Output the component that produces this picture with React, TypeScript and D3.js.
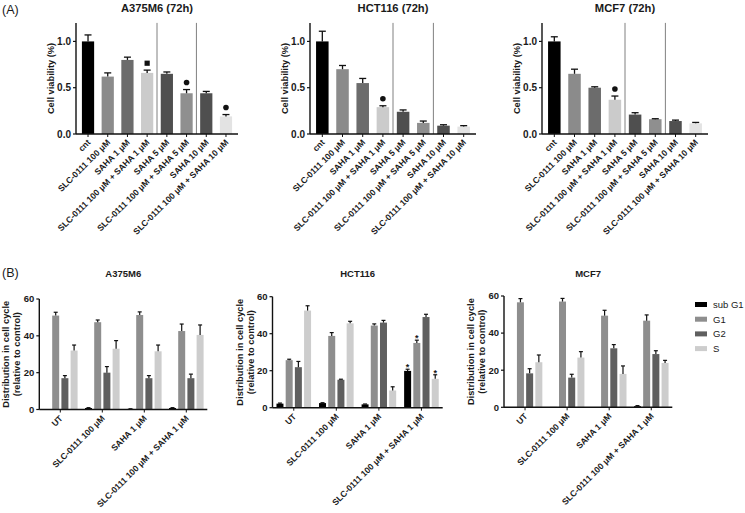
import React from "react";
import * as d3 from "d3";

// ---------- DATA ----------
const viabilityCategories = [
  "cnt",
  "SLC-0111 100 μM",
  "SAHA 1 μM",
  "SLC-0111 100 μM + SAHA 1 μM",
  "SAHA 5 μM",
  "SLC-0111 100 μM + SAHA 5 μM",
  "SAHA 10 μM",
  "SLC-0111 100 μM + SAHA 10 μM",
];
const viabilityTicks = [0, 0.5, 1.0];

const a375Viability = [1.0, 0.62, 0.8, 0.66, 0.65, 0.44, 0.44, 0.19];
const a375ViabilityErr = [0.07, 0.04, 0.03, 0.03, 0.02, 0.04, 0.02, 0.02];
const a375Markers = ["", "", "", "square", "", "circle", "", "circle"];

const hctViability = [1.0, 0.7, 0.55, 0.29, 0.24, 0.12, 0.09, 0.08];
const hctViabilityErr = [0.11, 0.04, 0.05, 0.015, 0.02, 0.02, 0.01, 0.01];
const hctMarkers = ["", "", "", "circle", "", "", "", ""];

const mcfViability = [1.0, 0.65, 0.5, 0.37, 0.21, 0.16, 0.14, 0.115];
const mcfViabilityErr = [0.05, 0.05, 0.01, 0.04, 0.02, 0.005, 0.01, 0.01];
const mcfMarkers = ["", "", "", "circle", "", "", "", ""];

const cycleGroups = ["UT", "SLC-0111 100 μM", "SAHA 1 μM", "SLC-0111 100 μM + SAHA 1 μM"];
const cyclePhases = ["sub G1", "G1", "G2", "S"];
const cycleTicks = [0, 20, 40, 60];

const a375SubG1 = [0, 0.8, 0.3, 0.8];
const a375SubG1Err = [0, 0.2, 0.1, 0.2];
const a375G1 = [51, 47.4, 51.3, 42.6];
const a375G1Err = [1.8, 1.2, 1.7, 3.8];
const a375G2 = [17, 20, 17, 17];
const a375G2Err = [1.4, 3.3, 1.4, 2.2];
const a375S = [32, 33, 31.6, 40.5];
const a375SErr = [3, 4.4, 3.4, 5.4];

const hctSubG1 = [2.2, 2.5, 1.8, 19.9];
const hctSubG1Err = [0.3, 0.2, 0.2, 0.9];
const hctG1 = [25.7, 38.8, 44.4, 35];
const hctG1Err = [0.5, 1.8, 0.9, 1.5];
const hctG2 = [21.9, 15.1, 46, 49];
const hctG2Err = [3.1, 0.3, 1.2, 1.5];
const hctS = [52.5, 45.6, 9.3, 15.6];
const hctSErr = [2.6, 1.1, 2, 2.2];
const hctStars = [
  [false, false, false, true],
  [false, false, false, true],
  [false, false, false, false],
  [false, false, false, true],
];

const mcfSubG1 = [0, 0.2, 0.1, 0.6];
const mcfSubG1Err = [0, 0, 0, 0.3];
const mcfG1 = [56.6, 57, 49.4, 46.7];
const mcfG1Err = [2, 1.7, 2.9, 3.1];
const mcfG2 = [18.3, 16, 31.8, 28.7];
const mcfG2Err = [2.5, 1.8, 2, 1.8];
const mcfS = [24.3, 26.8, 18, 23.9];
const mcfSErr = [3.9, 3.2, 4.3, 1.4];

// ---------- STYLE ----------
const FONT = "'Liberation Sans', Arial, Helvetica, sans-serif";
const TEXT = "#1a1a1a";
const viabilityColors = ["#000000", "#8b8b8b", "#6c6c6c", "#cbcbcb", "#4f4f4f", "#8f8f8f", "#4f4f4f", "#e3e3e3"];
const phaseColors = ["#000000", "#8e8e8e", "#5f5f5f", "#cdcdcd"];

type VProps = {
  title: string;
  values: number[];
  errors: number[];
  markers: string[];
  axisX: number;
  axisEnd: number;
};

function ViabilityPanel({ title, values, errors, markers, axisX, axisEnd }: VProps) {
  const baseline = 134;
  const top = 22.9;
  const x = d3
    .scaleBand<string>()
    .domain(viabilityCategories)
    .range([axisX, axisEnd])
    .paddingInner(0.38)
    .paddingOuter(0.3);
  const y = d3.scaleLinear().domain([0, 1.2]).range([baseline, top]);
  const bw = x.bandwidth();
  const cx = (c: string) => (x(c) as number) + bw / 2;
  const fmt = d3.format(".1f");
  const dividers = [
    (cx(viabilityCategories[3]) + cx(viabilityCategories[4])) / 2,
    (cx(viabilityCategories[5]) + cx(viabilityCategories[6])) / 2,
  ];
  return (
    <g>
      <text x={(axisX + axisEnd) / 2} y={11.5} textAnchor="middle" fontSize={11.2} fontWeight="bold" fill={TEXT}>
        {title}
      </text>
      {dividers.map((d, i) => (
        <line key={i} x1={d} x2={d} y1={top} y2={baseline} stroke="#808080" strokeWidth={1} />
      ))}
      {viabilityCategories.map((c, i) => {
        const errY = y(values[i] + errors[i]);
        const c0 = cx(c);
        return (
          <g key={c}>
            <rect x={x(c)} y={y(values[i])} width={bw} height={baseline - y(values[i])} fill={viabilityColors[i]} />
            <line x1={c0} x2={c0} y1={y(values[i])} y2={errY} stroke="#111" strokeWidth={1.3} />
            <line x1={c0 - 3.5} x2={c0 + 3.5} y1={errY} y2={errY} stroke="#111" strokeWidth={1.3} />
            {markers[i] === "square" && <rect x={c0 - 2.6} y={errY - 9.5} width={5.2} height={5.2} fill="#111" />}
            {markers[i] === "circle" && <circle cx={c0} cy={errY - 7} r={2.8} fill="#111" />}
            <line x1={c0} x2={c0} y1={baseline} y2={baseline + 3} stroke="#111" strokeWidth={1} />
            <text
              transform={`translate(${c0 + 3},${baseline + 9}) rotate(-45)`}
              textAnchor="end"
              fontSize={8.6}
              fontWeight="bold"
              fill={TEXT}
            >
              {c}
            </text>
          </g>
        );
      })}
      <line x1={axisX} x2={axisEnd} y1={baseline} y2={baseline} stroke="#111" strokeWidth={1.4} />
      <line x1={axisX} x2={axisX} y1={top} y2={baseline} stroke="#111" strokeWidth={1.4} />
      {viabilityTicks.map((t) => (
        <g key={t}>
          <line x1={axisX - 3} x2={axisX} y1={y(t)} y2={y(t)} stroke="#111" strokeWidth={1.2} />
          <text x={axisX - 5} y={y(t)} dy="0.35em" textAnchor="end" fontSize={10} fontWeight="bold" fill={TEXT}>
            {fmt(t)}
          </text>
        </g>
      ))}
      <text
        transform={`translate(${axisX - 25},${(top + baseline) / 2}) rotate(-90)`}
        textAnchor="middle"
        dy="0.35em"
        fontSize={9.3}
        fontWeight="bold"
        fill={TEXT}
      >
        Cell viability (%)
      </text>
    </g>
  );
}

type CProps = {
  title: string;
  series: number[][];
  errs: number[][];
  stars?: boolean[][];
  axisX: number;
  axisEnd: number;
  baseline: number;
  top: number;
};

function CyclePanel({ title, series, errs, stars, axisX, axisEnd, baseline, top }: CProps) {
  const gx = d3.scaleBand<string>().domain(cycleGroups).range([axisX, axisEnd]).padding(0);
  const px = d3.scaleBand<string>().domain(cyclePhases).range([-17.3, 17.3]).paddingInner(0.24).paddingOuter(0);
  const y = d3.scaleLinear().domain([0, 60]).range([baseline, top]);
  const bw = px.bandwidth();
  return (
    <g>
      <text x={(axisX + axisEnd) / 2} y={276.5} textAnchor="middle" fontSize={9.5} fontWeight="bold" fill={TEXT}>
        {title}
      </text>
      {cycleGroups.map((g, gi) => {
        const gc = (gx(g) as number) + gx.bandwidth() / 2;
        return (
          <g key={g}>
            {cyclePhases.map((p, pi) => {
              const v = series[pi][gi];
              const e = errs[pi][gi];
              const bx = gc + (px(p) as number);
              const c0 = bx + bw / 2;
              const errY = y(v + e);
              return (
                <g key={p}>
                  <rect x={bx} y={y(v)} width={bw} height={baseline - y(v)} fill={phaseColors[pi]} />
                  {e > 0 && (
                    <>
                      <line x1={c0} x2={c0} y1={y(v)} y2={errY} stroke="#111" strokeWidth={1.2} />
                      <line x1={c0 - 2} x2={c0 + 2} y1={errY} y2={errY} stroke="#111" strokeWidth={1.2} />
                    </>
                  )}
                  {stars && stars[pi][gi] && (
                    <text x={c0} y={errY + 1} textAnchor="middle" fontSize={9} fontWeight="bold" fill={TEXT}>
                      *
                    </text>
                  )}
                </g>
              );
            })}
            <line x1={gc} x2={gc} y1={baseline} y2={baseline + 3} stroke="#111" strokeWidth={1} />
            <text
              transform={`translate(${gc + 3},${baseline + 9.5}) rotate(-45)`}
              textAnchor="end"
              fontSize={8.6}
              fontWeight="bold"
              fill={TEXT}
            >
              {g}
            </text>
          </g>
        );
      })}
      <line x1={axisX} x2={axisEnd} y1={baseline} y2={baseline} stroke="#111" strokeWidth={1.4} />
      <line x1={axisX} x2={axisX} y1={top} y2={baseline} stroke="#111" strokeWidth={1.4} />
      {cycleTicks.map((t) => (
        <g key={t}>
          <line x1={axisX - 3} x2={axisX} y1={y(t)} y2={y(t)} stroke="#111" strokeWidth={1.2} />
          <text x={axisX - 5} y={y(t)} dy="0.35em" textAnchor="end" fontSize={9.5} fontWeight="bold" fill={TEXT}>
            {t}
          </text>
        </g>
      ))}
      <text
        transform={`translate(${axisX - 30},${(top + baseline) / 2}) rotate(-90)`}
        textAnchor="middle"
        fontSize={9.3}
        fontWeight="bold"
        fill={TEXT}
      >
        <tspan x={0} dy="0">Distribution in cell cycle</tspan>
        <tspan x={0} dy="11">(relative to control)</tspan>
      </text>
    </g>
  );
}

export default function App() {
  return (
    <svg
      width={745}
      height={513}
      style={{ position: "absolute", left: 0, top: 0, background: "#fff" }}
      fontFamily={FONT}
    >
      <rect width={745} height={513} fill="#fff" />
      <text x={2} y={14} fontSize={12.5} fill={TEXT}>(A)</text>
      <text x={2} y={277} fontSize={12.5} fill={TEXT}>(B)</text>

      <ViabilityPanel title="A375M6 (72h)" values={a375Viability} errors={a375ViabilityErr} markers={a375Markers} axisX={76} axisEnd={238} />
      <ViabilityPanel title="HCT116 (72h)" values={hctViability} errors={hctViabilityErr} markers={hctMarkers} axisX={310} axisEnd={476} />
      <ViabilityPanel title="MCF7 (72h)" values={mcfViability} errors={mcfViabilityErr} markers={mcfMarkers} axisX={542} axisEnd={708} />

      <CyclePanel
        title="A375M6"
        series={[a375SubG1, a375G1, a375G2, a375S]}
        errs={[a375SubG1Err, a375G1Err, a375G2Err, a375SErr]}
        axisX={39.3}
        axisEnd={207.3}
        baseline={409.5}
        top={299}
      />
      <CyclePanel
        title="HCT116"
        series={[hctSubG1, hctG1, hctG2, hctS]}
        errs={[hctSubG1Err, hctG1Err, hctG2Err, hctSErr]}
        stars={hctStars}
        axisX={272.5}
        axisEnd={442.7}
        baseline={407.7}
        top={296.7}
      />
      <CyclePanel
        title="MCF7"
        series={[mcfSubG1, mcfG1, mcfG2, mcfS]}
        errs={[mcfSubG1Err, mcfG1Err, mcfG2Err, mcfSErr]}
        axisX={504}
        axisEnd={672.3}
        baseline={407.3}
        top={296}
      />

      {cyclePhases.map((p, i) => (
        <g key={p}>
          <rect x={695} y={302 + i * 14.7} width={12} height={5} fill={phaseColors[i]} />
          <text x={713} y={304.5 + i * 14.7} dy="0.35em" fontSize={9.5} fill={TEXT}>
            {p}
          </text>
        </g>
      ))}
    </svg>
  );
}
